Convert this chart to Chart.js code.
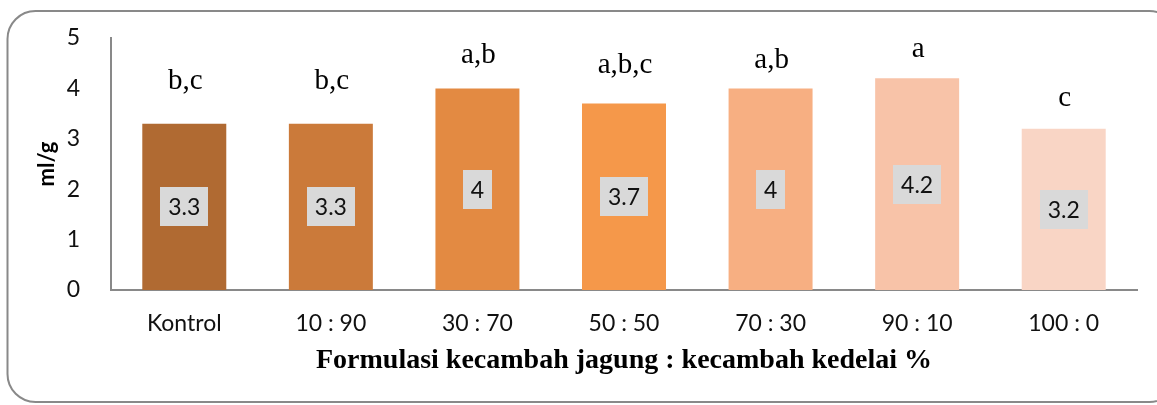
<!DOCTYPE html>
<html>
<head>
<meta charset="utf-8">
<script src="https://cdn.jsdelivr.net/npm/chart.js@4.4.0/dist/chart.umd.min.js"></script>
<style>
  html, body { margin: 0; padding: 0; background: #fff; }
  canvas { display: block; }
</style>
</head>
<body>
<canvas id="chart" width="1157" height="405"></canvas>
<script>
// data
const categories = ['Kontrol', '10 : 90', '30 : 70', '50 : 50', '70 : 30', '90 : 10', '100 : 0'];
const values = [3.3, 3.3, 4, 3.7, 4, 4.2, 3.2];
const letters = ['b,c', 'b,c', 'a,b', 'a,b,c', 'a,b', 'a', 'c'];
// baseline of each significance letter, in ml/g (axis units)
const letterLevels = [3.99, 3.99, 4.5, 4.31, 4.4, 4.62, 3.65];
const yTicks = [0, 1, 2, 3, 4, 5];

const barColors = ['#B06A32', '#CB7A3A', '#E38A42', '#F5984A', '#F7AF82', '#F8C3A8', '#F9D5C5'];
const axisGrey = '#898989';
const sans = 'Lato';
const serif = '"Liberation Serif", "Times New Roman", serif';

// rounded frame around the whole chart
const framePlugin = {
  id: 'frame',
  beforeDraw(chart) {
    const ctx = chart.ctx;
    ctx.save();
    ctx.strokeStyle = axisGrey;
    ctx.lineWidth = 2;
    ctx.beginPath();
    ctx.roundRect(7.5, 11, 1170, 391, 28);
    ctx.stroke();
    ctx.restore();
  }
};

// grey value boxes in the middle of each bar + letters above
const labelPlugin = {
  id: 'labels',
  afterDatasetsDraw(chart) {
    const ctx = chart.ctx;
    const meta = chart.getDatasetMeta(0);
    const yScale = chart.scales.y;
    ctx.save();
    meta.data.forEach((bar, i) => {
      const mid = (bar.y + bar.base) / 2;
      ctx.font = '23px ' + sans;
      const txt = String(values[i]);
      const w = ctx.measureText(txt).width + 16;
      const h = 39;
      ctx.fillStyle = '#D9D9D9';
      ctx.fillRect(Math.round(bar.x - w / 2), Math.round(mid - h / 2), Math.round(w), h);
      ctx.fillStyle = '#111';
      ctx.textAlign = 'center';
      ctx.textBaseline = 'middle';
      ctx.fillText(txt, bar.x, mid + 1);

      ctx.font = '29px ' + serif;
      ctx.textBaseline = 'alphabetic';
      ctx.fillStyle = '#000';
      ctx.fillText(letters[i], bar.x + 1, yScale.getPixelForValue(letterLevels[i]));
    });
    ctx.restore();
  }
};

new Chart(document.getElementById('chart'), {
  type: 'bar',
  data: {
    labels: categories,
    datasets: [{
      data: values,
      backgroundColor: barColors,
      borderWidth: 0,
      barPercentage: 0.573,
      categoryPercentage: 1
    }]
  },
  options: {
    responsive: false,
    animation: false,
    layout: { padding: { top: 38, right: 20, left: 0, bottom: 0 } },
    plugins: {
      legend: { display: false },
      tooltip: { enabled: false }
    },
    scales: {
      x: {
        grid: { display: false },
        border: { display: true, color: axisGrey, width: 2 },
        ticks: { color: '#111', font: { family: sans, size: 23 }, padding: 12 },
        title: {
          display: true,
          text: 'Formulasi kecambah jagung : kecambah kedelai %',
          color: '#000',
          font: { family: serif, size: 28, weight: 'bold', lineHeight: 1.2 },
          padding: { top: 0, bottom: 27 }
        },
        afterFit(scale) { scale.height = 115; }
      },
      y: {
        min: yTicks[0],
        max: yTicks[yTicks.length - 1],
        grid: { display: false },
        border: { display: true, color: axisGrey, width: 2 },
        afterBuildTicks(scale) { scale.ticks = yTicks.map(v => ({ value: v })); },
        ticks: { color: '#111', font: { family: sans, size: 23 }, padding: 23 },
        title: {
          display: true,
          text: 'ml/g',
          color: '#000',
          font: { family: sans, size: 22, weight: 'bold', lineHeight: 1.2 },
          padding: { top: 34, bottom: 0 }
        },
        afterFit(scale) { scale.width = 111; }
      }
    }
  },
  plugins: [framePlugin, labelPlugin]
});
</script>
</body>
</html>
